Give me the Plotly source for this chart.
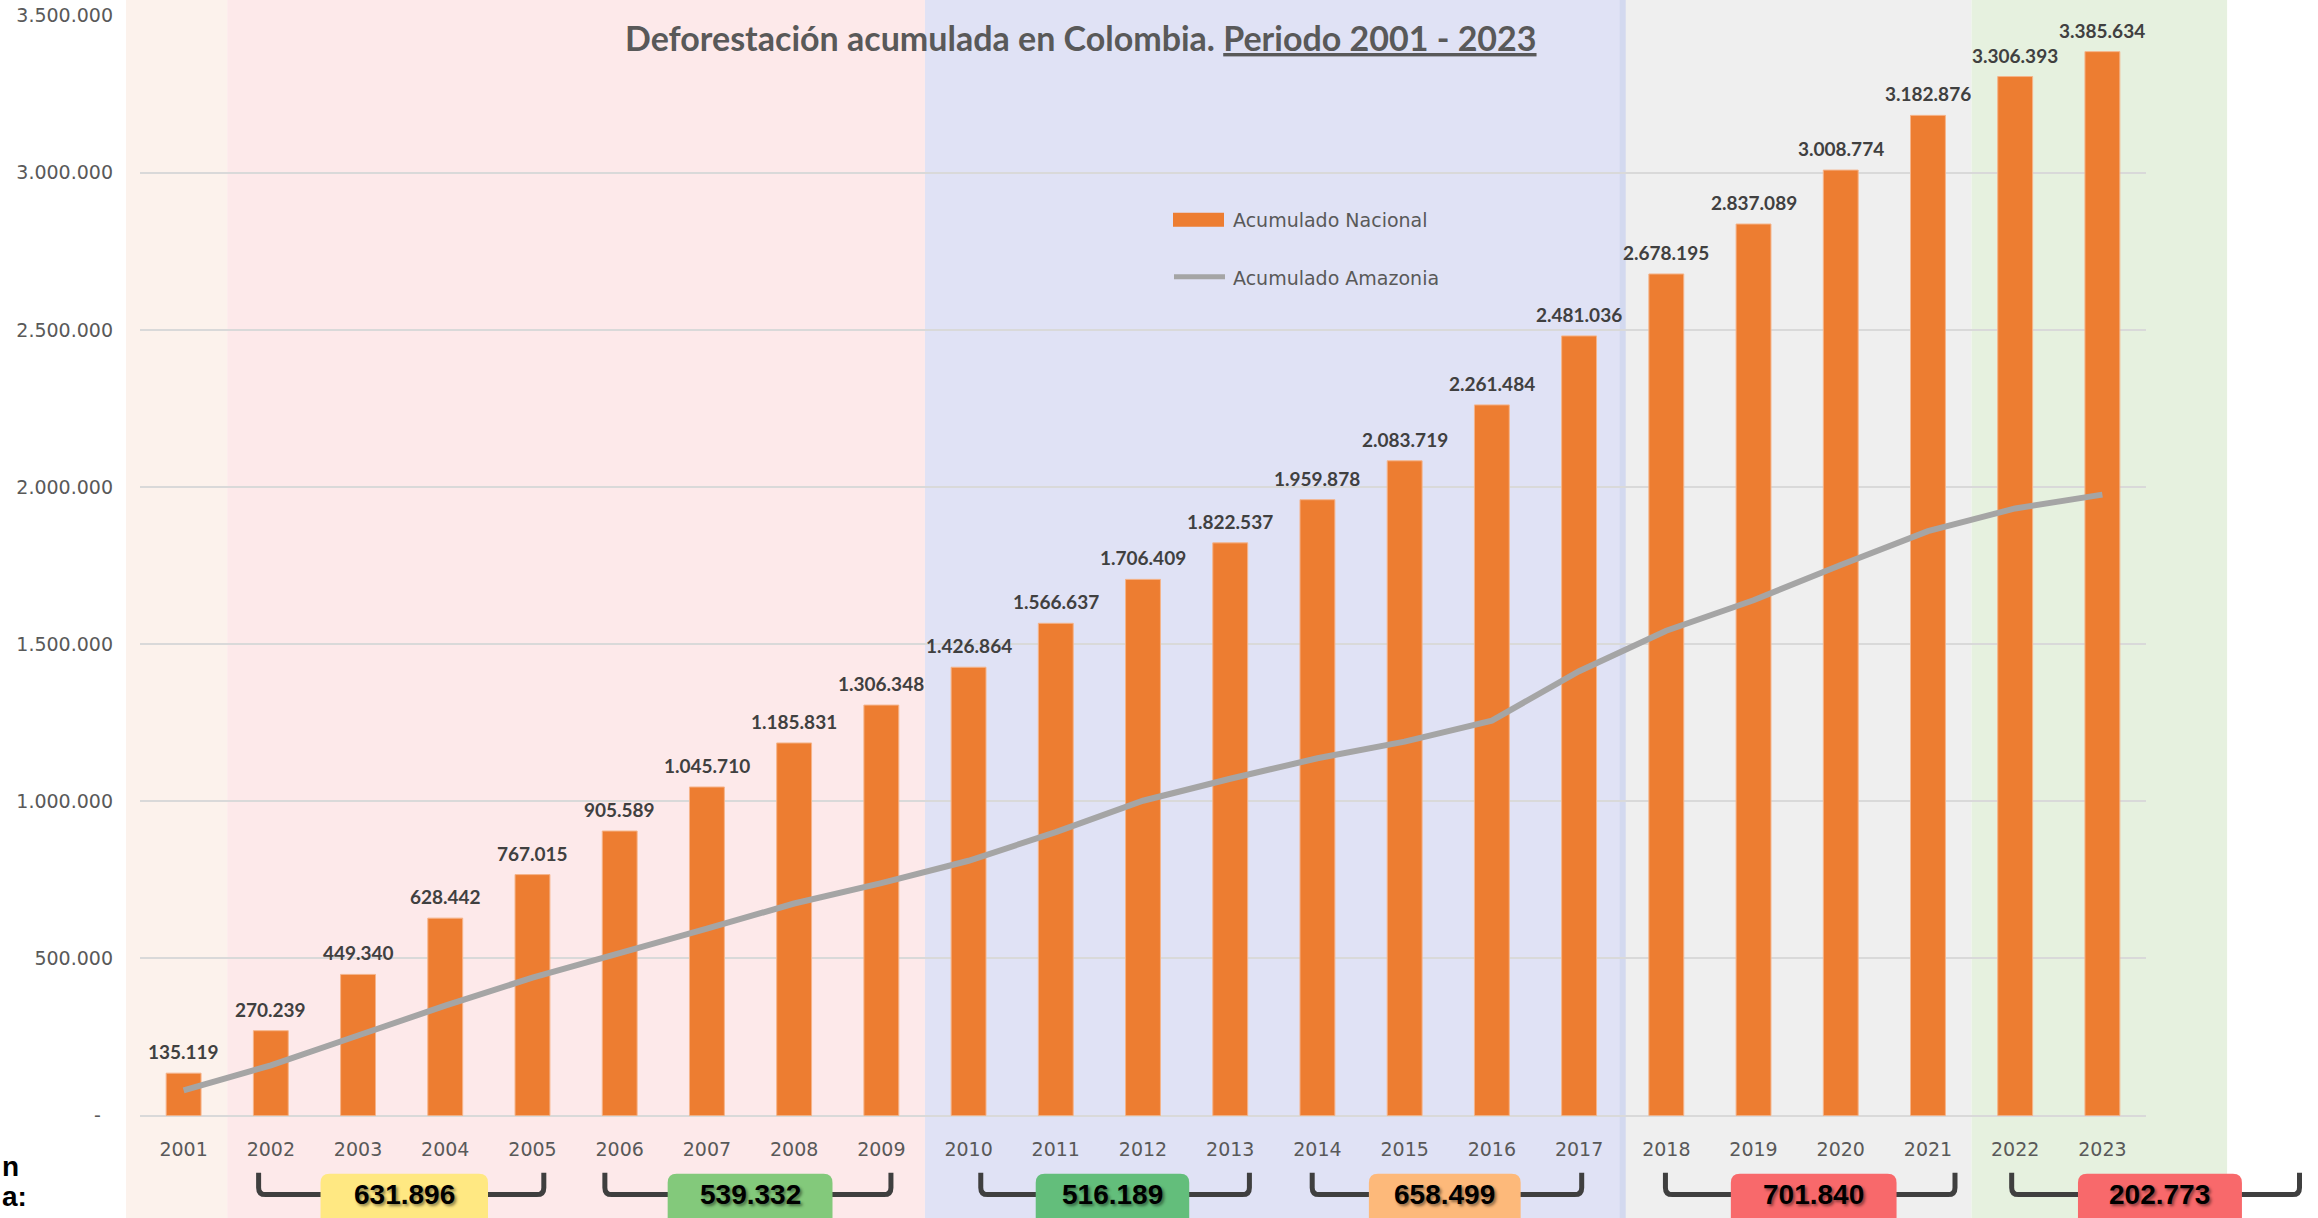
import plotly.graph_objects as go

# ---------------- data ----------------
years = ["2001", "2002", "2003", "2004", "2005", "2006", "2007", "2008", "2009", "2010",
         "2011", "2012", "2013", "2014", "2015", "2016", "2017", "2018", "2019", "2020",
         "2021", "2022", "2023"]
acumulado_nacional = [135119, 270239, 449340, 628442, 767015, 905589, 1045710, 1185831,
                      1306348, 1426864, 1566637, 1706409, 1822537, 1959878, 2083719,
                      2261484, 2481036, 2678195, 2837089, 3008774, 3182876, 3306393, 3385634]
acumulado_amazonia = [80000, 160000, 255000, 350000, 439000, 515000, 595000, 675000,
                      740000, 811000, 902000, 1002000, 1072000, 1137000, 1190000,
                      1257000, 1414000, 1543000, 1640000, 1752000, 1860000, 1932000, 1976000]
y_tickvals = [0, 500000, 1000000, 1500000, 2000000, 2500000, 3000000, 3500000]
y_ticktext = ["-\u00a0\u00a0", "500.000", "1.000.000", "1.500.000", "2.000.000",
              "2.500.000", "3.000.000", "3.500.000"]
period_totals = ["631.896", "539.332", "516.189", "658.499", "701.840", "202.773"]

# ---------------- styling / layout helpers ----------------
FW, FH = 2318, 1218
# vertical calibration of the rendered picture (picture_y = V_OFF + V_SCALE * figure_y)
V_OFF, V_SCALE = 10.3, 0.982
PLOT_L, PLOT_R = 140, 2146
N = len(years)
STEP = (PLOT_R - PLOT_L) / N


def xpx(pix):
    return pix / FW


def ypx(pix):
    """target picture y (px from top) -> paper y"""
    f = (pix - V_OFF) / V_SCALE
    return 1 - f / FH


def xp(pos):
    """category position -> paper x"""
    return xpx(PLOT_L + (pos + 0.5) * STEP)


ORANGE = "#ED7D31"
GRAY_LINE = "#A5A5A5"
TXT = "#595959"

bands = [(-0.66, 0.5, "#FCF2EC"), (0.5, 8.5, "#FDE9EA"), (8.5, 16.5, "#E0E2F5"),
         (16.5, 20.5, "#EFEFEF"), (20.5, 23.43, "#E6F1DF")]
period_brackets = [(0.86, 4.13), (4.83, 8.11), (9.14, 12.22), (12.94, 16.03),
                   (16.99, 20.31), (20.96, 24.26)]
period_boxes = [(1.57, 3.49), (5.55, 7.44), (9.77, 11.53), (13.59, 15.33),
                (17.74, 19.64), (21.72, 23.6)]
period_colors = ["#FFE882", "#83C97B", "#63BE7B", "#FDB97A", "#F8696B", "#F8696B"]

fig = go.Figure()

fig.add_trace(go.Bar(
    x=years, y=acumulado_nacional, name="Acumulado Nacional",
    marker=dict(color=ORANGE, line=dict(color="#F5B48A", width=1)),
    width=0.4, showlegend=False,
))
fig.add_trace(go.Scatter(
    x=years, y=acumulado_amazonia, name="Acumulado Amazonia", mode="lines",
    line=dict(color=GRAY_LINE, width=6), showlegend=False,
))

shapes = []
for x0, x1, col in bands:
    shapes.append(dict(type="rect", xref="paper", yref="paper", x0=xp(x0), x1=xp(x1),
                       y0=-0.02, y1=1.02, fillcolor=col, line=dict(width=0), layer="below"))
shapes.append(dict(type="rect", xref="paper", yref="paper",
                   x0=xp(16.5) - 3 / FW, x1=xp(16.5) + 3 / FW, y0=-0.02, y1=1.02,
                   fillcolor="#D3D9EF", line=dict(width=0), layer="below"))

BR_TOP, BR_BOT, R = 1172, 1194, 7
for (b0, b1), (c0, c1), col in zip(period_brackets, period_boxes, period_colors):
    X0, X1 = xp(b0), xp(b1)
    rx = R / FW
    path = (f"M{X0},{ypx(BR_TOP)} L{X0},{ypx(BR_BOT - R)} "
            f"Q{X0},{ypx(BR_BOT)} {X0 + rx},{ypx(BR_BOT)} "
            f"L{X1 - rx},{ypx(BR_BOT)} Q{X1},{ypx(BR_BOT)} {X1},{ypx(BR_BOT - R)} "
            f"L{X1},{ypx(BR_TOP)}")
    shapes.append(dict(type="path", xref="paper", yref="paper", path=path,
                       line=dict(color="#3F3F3F", width=5), layer="above"))
    B0, B1 = xp(c0), xp(c1)
    top, bot = 1173, 1240
    rr = 9
    bpath = (f"M{B0 + rr / FW},{ypx(top)} L{B1 - rr / FW},{ypx(top)} "
             f"Q{B1},{ypx(top)} {B1},{ypx(top + rr)} L{B1},{ypx(bot)} "
             f"L{B0},{ypx(bot)} L{B0},{ypx(top + rr)} Q{B0},{ypx(top)} {B0 + rr / FW},{ypx(top)} Z")
    shapes.append(dict(type="path", xref="paper", yref="paper", path=bpath,
                       fillcolor=col, line=dict(width=0), layer="above"))

shapes.append(dict(type="rect", xref="paper", yref="paper", x0=xpx(1173), x1=xpx(1224),
                   y0=ypx(226), y1=ypx(212), fillcolor=ORANGE, line=dict(width=0)))
shapes.append(dict(type="line", xref="paper", yref="paper", x0=xpx(1174), x1=xpx(1225),
                   y0=ypx(276), y1=ypx(276), line=dict(color=GRAY_LINE, width=5)))

annotations = []
for i, v in enumerate(acumulado_nacional):
    annotations.append(dict(x=i, y=v, xref="x", yref="y", text=f"{v:,}".replace(",", "."),
                            showarrow=False, yanchor="bottom", yshift=8,
                            font=dict(family="Lato", size=19, color="#404040", weight="bold")))
for (c0, c1), t in zip(period_boxes, period_totals):
    annotations.append(dict(x=(xp(c0) + xp(c1)) / 2, y=ypx(1194), xref="paper", yref="paper",
                            text=f"<b>{t}</b>", showarrow=False, xanchor="center", yanchor="middle",
                            font=dict(family="Liberation Sans", size=28, color="#000000",
                                      shadow="2px 2px 3px rgba(0,0,0,0.45)")))
annotations.append(dict(x=xpx(1081), y=ypx(37), xref="paper", yref="paper",
                        text="<b>Deforestación acumulada en Colombia. <u>Periodo 2001 - 2023</u></b>",
                        showarrow=False, xanchor="center", yanchor="middle",
                        font=dict(family="Lato", size=34, color=TXT)))
for txt, yy in [("Acumulado Nacional", 219), ("Acumulado Amazonia", 277)]:
    annotations.append(dict(x=xpx(1231), y=ypx(yy), xref="paper", yref="paper", text=txt,
                            showarrow=False, xanchor="left", yanchor="middle",
                            font=dict(family="DejaVu Sans", size=19, color=TXT)))
for txt, yy in [("n", 1166), ("a:", 1196)]:
    annotations.append(dict(x=0.0, y=ypx(yy), xref="paper", yref="paper", text=f"<b>{txt}</b>",
                            showarrow=False, xanchor="left", yanchor="middle",
                            font=dict(family="Liberation Sans", size=28, color="#000000")))

fig.update_layout(
    autosize=True,
    margin=dict(l=0, r=0, t=0, b=0),
    paper_bgcolor="white", plot_bgcolor="rgba(0,0,0,0)",
    shapes=shapes, annotations=annotations, showlegend=False,
    xaxis=dict(type="category", domain=[xpx(PLOT_L), xpx(PLOT_R)], range=[-0.5, N - 0.5],
               showgrid=False, showline=False, zeroline=False, ticks="",
               ticklabelstandoff=20,
               tickfont=dict(family="DejaVu Sans", size=19, color=TXT)),
    yaxis=dict(domain=[ypx(1115), ypx(15)], range=[0, 3500000],
               tickvals=y_tickvals, ticktext=y_ticktext, ticklabeloverflow="allow",
               showgrid=True, gridcolor="#D9D9D9", gridwidth=2,
               zeroline=True, zerolinecolor="#D9D9D9", zerolinewidth=2,
               showline=False, ticks="", ticklabelstandoff=26,
               tickfont=dict(family="DejaVu Sans", size=19, color=TXT)),
)

fig.write_html(
    "out.html",
    config={"displayModeBar": False},
    default_width=f"{FW}px; position:fixed; left:0px; top:0px",
    default_height=f"{FH}px",
)
